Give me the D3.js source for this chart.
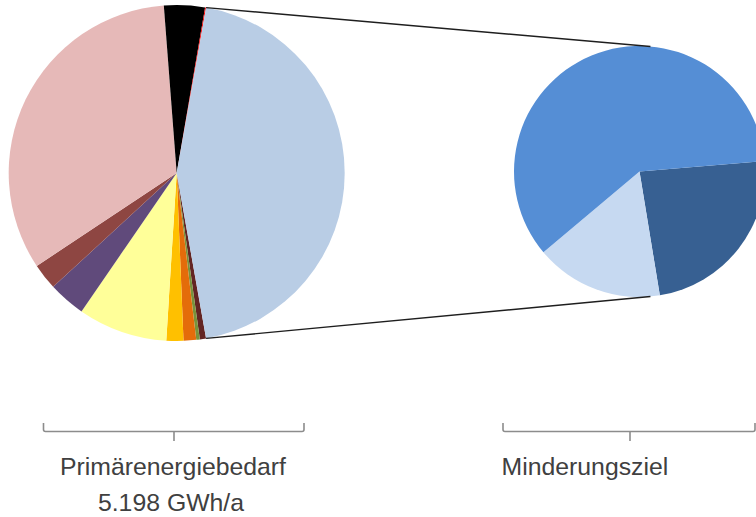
<!DOCTYPE html>
<html>
<head>
<meta charset="utf-8">
<script src="https://cdn.jsdelivr.net/npm/d3@7"></script>
<style>
  html, body { margin: 0; padding: 0; background: #ffffff; }
  svg { display: block; }
</style>
</head>
<body>
<svg id="chart" width="756" height="517"></svg>
<script>
// ---- Data (GWh/a) ----
const mainCategories = ["Energieträger 1", "Energieträger 2", "Energieträger 3", "Energieträger 4",
  "Energieträger 5", "Energieträger 6", "Energieträger 7", "Energieträger 8",
  "Energieträger 9", "Energieträger 10", "Minderungsziel"];
const mainValues = [31, 18, 63, 85, 447, 185, 131, 1721, 204, 5, 2308];
const mainColors = ["#632523", "#77933C", "#E46C0A", "#FFC000", "#FFFF99", "#604A7B",
  "#8E4642", "#E6B9B8", "#000000", "#FF0000", "#B9CDE5"];

const subCategories = ["Minderung A", "Minderung B", "Minderung C"];
const subValues = [548, 380, 1380];
const subColors = ["#376092", "#C6D9F1", "#558ED5"];

const bracketLabels = ["Primärenergiebedarf", "Minderungsziel"];
const totalLabel = "5.198 GWh/a";

// ---- Layout ----
const svg = d3.select("#chart");
const deg = Math.PI / 180;

const main = { cx: 176.7, cy: 173, r: 168 };
const sub = { cx: 639.5, cy: 171.5, r: 125.5 };

// Main pie: the "other" (last) slice is centred on the right (90°)
const total = d3.sum(mainValues);
const otherFrac = mainValues[mainValues.length - 1] / total;
const mainStart = (90 + 180 * otherFrac) * deg;

const mainPie = d3.pie().sort(null).value(d => d)
  .startAngle(mainStart).endAngle(mainStart + 2 * Math.PI);
const mainArc = d3.arc().innerRadius(0).outerRadius(main.r);

const gMain = svg.append("g").attr("transform", `translate(${main.cx},${main.cy})`);
gMain.selectAll("path").data(mainPie(mainValues)).join("path")
  .attr("d", mainArc)
  .attr("fill", (d, i) => mainColors[i]);

// Secondary pie
const subStart = 85.2 * deg;
const subPie = d3.pie().sort(null).value(d => d)
  .startAngle(subStart).endAngle(subStart + 2 * Math.PI);
const subArc = d3.arc().innerRadius(0).outerRadius(sub.r);

const gSub = svg.append("g").attr("transform", `translate(${sub.cx},${sub.cy})`);
gSub.selectAll("path").data(subPie(subValues)).join("path")
  .attr("d", subArc)
  .attr("fill", (d, i) => subColors[i]);

// Connector lines from the "other" slice edges to the secondary pie
const otherArc = mainPie(mainValues)[mainValues.length - 1];
function pt(c, a) { return [c.cx + c.r * Math.sin(a), c.cy - c.r * Math.cos(a)]; }
const lines = [
  [pt(main, otherArc.startAngle), pt(sub, 5 * deg)],
  [pt(main, otherArc.endAngle), pt(sub, 175 * deg)]
];
svg.selectAll("line.conn").data(lines).join("line")
  .attr("class", "conn")
  .attr("x1", d => d[0][0]).attr("y1", d => d[0][1])
  .attr("x2", d => d[1][0]).attr("y2", d => d[1][1])
  .attr("stroke", "#1e1e1e").attr("stroke-width", 1.4);

// Brackets
const brackets = [
  { x0: 43.5, x1: 304, xm: 174 },
  { x0: 503, x1: 755, xm: 630 }
];
const bTop = 423, bY = 431.5, bTick = 441;
svg.selectAll("path.bracket").data(brackets).join("path")
  .attr("class", "bracket")
  .attr("d", b => `M${b.x0},${bTop} L${b.x0},${bY - 2} Q${b.x0},${bY} ${b.x0 + 2},${bY} L${b.x1 - 2},${bY} Q${b.x1},${bY} ${b.x1},${bY - 2} L${b.x1},${bTop} M${b.xm},${bY} L${b.xm},${bTick}`)
  .attr("fill", "none").attr("stroke", "#8c8c8c").attr("stroke-width", 1.6);

// Labels
const font = "'Liberation Sans', Arial, sans-serif";
svg.append("text").attr("x", 173).attr("y", 474.5)
  .attr("text-anchor", "middle").attr("font-family", font).attr("font-size", 24.8)
  .attr("fill", "#404040").text(bracketLabels[0]);
svg.append("text").attr("x", 171).attr("y", 511)
  .attr("text-anchor", "middle").attr("font-family", font).attr("font-size", 24.8)
  .attr("fill", "#404040").text(totalLabel);
svg.append("text").attr("x", 501.5).attr("y", 474.5)
  .attr("text-anchor", "start").attr("font-family", font).attr("font-size", 24.8)
  .attr("fill", "#404040").text(bracketLabels[1]);
</script>
</body>
</html>
